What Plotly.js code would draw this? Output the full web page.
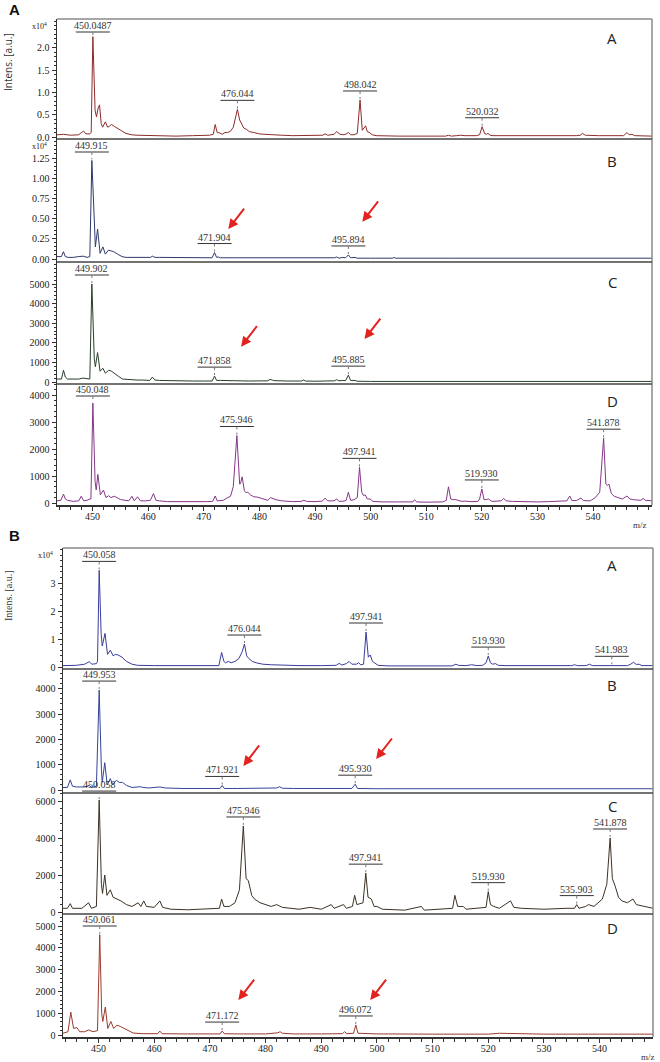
<!DOCTYPE html>
<html><head><meta charset="utf-8">
<script src="https://cdn.plot.ly/plotly-3.0.1.min.js"></script>
<style>body{margin:0;background:#fff}#chart{width:660px;height:1062px}</style>
</head><body><div id="chart"></div>
<script>
// ---------------- DATA ----------------
// Figure A, spectrum A (x10^4)
const mzA1 = [443.6,444.8,446,447.5,448.0,448.4,448.8,449.5,449.75,450.05,450.45,450.7,451.0,451.25,451.55,451.8,452.3,452.7,453.0,453.4,453.9,454.5,455.2,456,457,458,460,462,465,468,470,471.0,471.7,472.05,472.4,472.9,473.3,473.8,474.3,474.8,475.3,475.7,476.05,476.45,476.85,477.2,477.7,478.2,479,480,481,482,484,486,488,490,491.4,491.8,492.3,493.4,493.9,494.5,495.2,495.6,496.0,496.4,497.0,497.6,498.1,498.5,498.8,499.1,499.4,499.8,500.3,501,505,510,513.5,514,514.5,515.5,516.2,517,518,519,519.6,520.05,520.5,520.8,521.1,521.5,522,523,524,530,535,536.5,537,537.7,538.1,538.6,539.5,541,542.5,545.5,546.1,546.5,547,547.5,550.6];
const intA1 = [0.05,0.06,0.04,0.05,0.1,0.13,0.07,0.07,0.1,2.25,0.6,0.45,0.65,0.72,0.3,0.22,0.34,0.22,0.24,0.28,0.24,0.2,0.14,0.08,0.05,0.04,0.03,0.03,0.02,0.03,0.03,0.04,0.06,0.28,0.1,0.09,0.06,0.1,0.1,0.13,0.22,0.4,0.62,0.38,0.28,0.2,0.17,0.12,0.1,0.07,0.06,0.05,0.04,0.03,0.03,0.03,0.04,0.07,0.04,0.06,0.12,0.06,0.05,0.07,0.1,0.05,0.05,0.08,0.83,0.15,0.2,0.25,0.12,0.1,0.05,0.03,0.02,0.02,0.02,0.04,0.02,0.03,0.04,0.03,0.03,0.03,0.05,0.23,0.08,0.06,0.08,0.04,0.03,0.03,0.03,0.02,0.02,0.03,0.03,0.04,0.08,0.04,0.03,0.03,0.03,0.03,0.1,0.05,0.06,0.03,0.02];
// Figure A, spectrum B (x10^4)
const mzA2 = [443.6,444.4,444.75,445.1,445.6,446.5,447.5,448.3,449,449.5,449.87,450.3,450.5,450.9,451.35,451.85,452.3,452.85,453.3,453.8,454.5,455.3,456,458,460.4,460.8,461.2,462,463.5,465,468,471.5,471.93,472.3,472.6,473,476,480,485,490,493.5,493.9,494.3,495.0,495.5,496.0,496.4,497.2,497.6,500,504,504.2,504.5,515,518,518.5,519,519.5,520.2,520.6,535,537.5,538,538.5,540,540.3,540.6,550.6];
const intA2 = [0.03,0.03,0.09,0.03,0.02,0.02,0.03,0.035,0.02,0.03,1.22,0.3,0.15,0.37,0.07,0.15,0.06,0.11,0.1,0.09,0.06,0.03,0.02,0.02,0.02,0.035,0.02,0.02,0.02,0.015,0.015,0.015,0.08,0.02,0.025,0.015,0.015,0.015,0.015,0.015,0.015,0.025,0.01,0.02,0.015,0.05,0.015,0.02,0.01,0.01,0.01,0.02,0.01,0.01,0.01,0.015,0.01,0.01,0.015,0.01,0.01,0.01,0.015,0.01,0.01,0.015,0.01,0.01];
// Figure A, spectrum C
const mzA3 = [443.6,444.4,444.77,445.1,445.5,446.5,447.5,448.3,449,449.5,449.87,450.3,450.5,450.9,451.35,451.85,452.3,452.9,453.4,454,454.6,455.4,456.5,458,459,460.3,460.75,461.2,462,464,466,468,470,471.5,471.93,472.3,473,475,478,481.5,481.9,482.3,482.6,485,487.6,487.9,488.3,490,493.5,493.9,494.3,495.0,495.5,496.0,496.4,497.2,497.6,500,504,504.3,504.6,510,515,518.5,520,525,530,535,538,540,545,550.6];
const intA3 = [150,150,600,250,150,150,150,200,150,150,5000,1200,780,1500,550,700,450,600,550,400,300,150,120,100,100,80,250,100,80,60,60,50,50,50,300,80,80,60,50,60,130,100,70,50,50,100,50,40,60,120,60,80,70,350,80,80,40,30,30,60,30,30,30,50,40,30,30,30,50,40,30,30];
// Figure A, spectrum D
const mzA4 = [443.6,444.3,444.77,445.1,445.5,446.5,447.5,447.95,448.4,449.0,449.5,449.7,450.05,450.45,450.65,450.95,451.4,451.96,452.4,452.9,453.3,453.9,454.4,455,455.8,456.5,457.07,457.5,458.08,458.6,459.5,460.4,460.95,461.4,462,463.5,465,467,469,470.5,471.6,472.05,472.4,473,473.5,474.3,474.8,475.3,475.95,476.45,476.6,476.9,477.3,477.6,477.9,478.4,479,479.6,480.2,480.8,481.5,482.0,482.5,483,484,485,486,487.5,488,488.5,490,491.3,491.8,492.3,493.4,493.9,494.3,495.2,495.6,496.0,496.4,497.0,497.6,498.0,498.4,498.7,499.03,499.4,499.9,500.4,502,505,507.6,507.9,508.3,510,513,513.6,514.0,514.4,514.8,515.2,515.8,516.4,517,518,519.3,519.6,520.0,520.4,520.8,521.2,521.8,522.5,523.5,523.9,524.4,525.5,527,530,532,534,535.3,535.8,536.2,537,537.8,538.3,539,539.5,540.4,541.2,541.9,542.3,542.55,542.85,543.3,543.8,544.5,545.3,546.1,546.6,547.3,548,548.6,549,549.4,550.6];
const intA4 = [80,100,330,150,100,60,80,250,80,100,150,150,3700,800,480,1060,300,480,200,270,200,250,200,130,100,80,250,80,230,80,80,100,350,100,80,50,50,40,50,50,60,260,80,100,100,200,250,600,2500,700,720,970,450,380,400,300,230,220,180,120,100,200,150,120,80,60,50,60,100,60,50,70,180,80,80,150,60,70,100,400,100,120,200,1320,400,280,300,150,150,60,40,40,40,120,40,30,40,100,600,150,120,130,100,60,70,50,60,150,520,120,130,150,60,60,80,170,80,60,50,40,50,60,80,260,90,90,180,90,100,80,200,400,2400,700,650,700,350,250,200,150,260,150,120,100,100,170,100,80];
// Figure B, spectrum A (x10^4)
const mzB1 = [443.6,445,446,447.5,448.3,448.8,449.6,449.8,450.1,450.45,450.65,451.15,451.6,452.1,452.6,453.0,453.5,454.2,455,456,457,460,465,470,471.6,472.1,472.5,472.8,473.3,473.8,474.5,475.2,475.8,476.2,476.6,477.0,477.6,478.3,479.5,481,483,486,490,492.7,493.2,493.7,494.5,495.0,495.5,496.3,496.7,497.1,497.6,498.05,498.45,498.8,499.2,499.6,500.2,502,508,513.5,514.2,514.6,516,517,518,519,519.6,520.0,520.4,520.8,521.3,521.8,523,530,535,535.5,536,537.6,538.2,538.7,540,542.2,543,545,545.6,546.1,546.6,547.1,547.6,549.6];
const intB1 = [0.05,0.06,0.06,0.1,0.19,0.1,0.12,0.2,3.45,1.2,0.75,1.2,0.45,0.6,0.4,0.45,0.43,0.35,0.2,0.1,0.06,0.05,0.04,0.04,0.05,0.52,0.2,0.15,0.2,0.15,0.2,0.3,0.55,0.82,0.4,0.3,0.2,0.15,0.1,0.08,0.06,0.05,0.05,0.06,0.13,0.07,0.12,0.2,0.1,0.1,0.15,0.08,0.1,1.25,0.35,0.43,0.2,0.15,0.06,0.04,0.04,0.04,0.1,0.06,0.05,0.08,0.05,0.06,0.15,0.39,0.15,0.1,0.12,0.06,0.05,0.04,0.05,0.08,0.05,0.05,0.1,0.05,0.05,0.06,0.04,0.05,0.1,0.17,0.09,0.1,0.05,0.05];
// Figure B, spectrum B
const mzB2 = [443.6,444.4,444.9,445.3,446,447.5,448.3,448.8,449.6,450.1,450.5,450.65,451.1,451.55,452.1,452.5,453.2,453.7,454.3,455,456,457.5,458,459,461,462,465,470,471.8,472.2,472.6,475,480,482.0,482.5,483,485,490,494,495.5,496.1,496.5,500,510,520,530,540,549.6];
const intB2 = [100,100,400,150,120,120,180,100,150,3950,800,300,1080,200,450,220,380,300,300,180,100,130,100,80,120,80,60,60,60,180,60,60,60,80,130,70,60,50,60,60,230,60,50,50,50,50,50,50];
// Figure B, spectrum C
const mzB3 = [443.6,444.4,444.9,445.3,447,448.2,448.7,449.6,450.1,450.5,450.7,451.1,451.5,452.1,452.6,453.3,454,455,456,457.1,457.6,458.1,458.6,460,461,461.5,463,466,470,471.7,472.1,472.5,473.5,474.5,475.3,476.0,476.5,476.9,477.5,478,479,480,481,482,483,486,488,490,491.8,492.3,494,494.5,495.6,496.0,496.4,497.5,498.0,498.4,499,499.5,500,501,505,508,508.5,513.6,514.0,514.5,515.5,516,519.6,520.0,520.4,521,522,524,524.6,526,530,534,535.5,535.9,536.3,537.5,538,539,540.5,541.3,541.9,542.3,542.8,543.4,544,545,546,546.6,548,549.6];
const intB3 = [200,200,450,200,200,500,200,300,6050,1500,1000,2000,900,1200,800,700,600,400,300,500,300,600,300,250,600,250,150,120,150,200,700,300,300,500,1200,4650,1800,1700,900,700,500,400,300,400,250,150,250,150,400,200,400,200,300,900,400,500,2100,800,700,300,300,150,100,300,100,200,900,300,300,150,250,1100,400,300,200,600,250,200,150,200,200,400,200,300,400,300,700,1500,4000,1800,1400,800,600,500,700,400,300,200];
// Figure B, spectrum D
const mzB4 = [443.6,444.5,445.0,445.5,446.1,446.6,447.5,448.2,449.0,449.8,450.2,450.55,450.75,451.2,451.65,452.2,452.7,453.3,454,454.6,455.3,456.2,458,460.6,461.0,461.4,465,470,471.8,472.2,472.6,475,480,482.2,482.6,483,485,490,493.8,494.2,494.6,495.8,496.2,496.6,500,510,520,522,530,540,549.6];
const intB4 = [80,150,1050,300,340,150,150,230,150,200,4600,1000,620,1280,300,620,300,450,380,300,180,90,60,60,180,60,50,50,50,180,60,50,50,100,150,80,50,50,60,150,60,80,460,80,50,40,40,80,40,40,40];

// peak labels (text) and the m/z of the peak each one sits over
const labTextA1 = ['450.0487','476.044','498.042','520.032'];
const labPeakA1 = [450.05,476.05,498.1,520.05];
const labTextA2 = ['449.915','471.904','495.894'];
const labPeakA2 = [449.87,471.93,496.0];
const labTextA3 = ['449.902','471.858','495.885'];
const labPeakA3 = [449.87,471.93,496.0];
const labTextA4 = ['450.048','475.946','497.941','519.930','541.878'];
const labPeakA4 = [450.05,475.95,498.0,520.0,541.9];
const labTextB1 = ['450.058','476.044','497.941','519.930','541.983'];
const labPeakB1 = [450.1,476.2,498.05,520.0,542.2];
const labTextB2 = ['449.953','471.921','495.930'];
const labPeakB2 = [450.1,472.2,496.1];
const labTextB3 = ['450.058','475.946','497.941','519.930','535.903','541.878'];
const labPeakB3 = [450.1,476.0,498.0,520.0,535.9,541.9];
const labTextB4 = ['450.061','471.172','496.072'];
const labPeakB4 = [450.2,472.2,496.2];

// red arrows: head position (m/z, intensity) per panel
const arrowMzA2 = [474.4,498.5], arrowIntA2 = [0.37,0.46];
const arrowMzA3 = [476.7,498.9], arrowIntA3 = [1800,2190];
const arrowMzB2 = [476.0,499.85], arrowIntB2 = [950,1225];
const arrowMzB4 = [475.1,498.8], arrowIntB4 = [1600,1600];

const xTicks = [450,460,470,480,490,500,510,520,530,540];
const ticksA1 = [0,0.5,1.0,1.5,2.0];
const ticksA2 = [0,0.25,0.5,0.75,1.0,1.25];
const ticksA3 = [0,1000,2000,3000,4000,5000];
const ticksA4 = [0,1000,2000,3000,4000];
const ticksB1 = [0,1,2,3];
const ticksB2 = [0,1000,2000,3000,4000];
const ticksB3 = [0,2000,4000,6000];
const ticksB4 = [0,1000,2000,3000,4000,5000];
const panelLetters = ['A','B','C','D'];

// ---------------- LAYOUT GEOMETRY ----------------
const W = 660, H = 1062;
const figs = [
  {ax:'x', left:57, right:652, range:[443.6,550.6], top:19, bottom:505, label:'A', labelY:10, titleY:62, titleFont:'Open Sans', mzY:525, mzX:640, bottomAxis:'y4'},
  {ax:'x2', left:63, right:653, range:[443.6,549.6], top:548, bottom:1037, label:'B', labelY:535, titleY:596, titleFont:'Liberation Serif', mzY:1057, mzX:648, bottomAxis:'y8'}
];
const P = [
  {f:0, top:19,  bot:139, zero:137,  ppu:44.6,   ticks:ticksA1, dec:1, exp:true, color:'#8e2c2c', mz:mzA1, it:intA1, lt:labTextA1, lp:labPeakA1, letterOff:19, clamp:13},
  {f:0, top:139, bot:262, zero:259,  ppu:80.8,   ticks:ticksA2, dec:2, exp:true, color:'#2f3a6b', mz:mzA2, it:intA2, lt:labTextA2, lp:labPeakA2, am:arrowMzA2, ai:arrowIntA2, letterOff:22, clamp:13},
  {f:0, top:262, bot:384, zero:382,  ppu:0.0196, ticks:ticksA3, dec:0, color:'#27402a', mz:mzA3, it:intA3, lt:labTextA3, lp:labPeakA3, am:arrowMzA3, ai:arrowIntA3, letterOff:20, clamp:13},
  {f:0, top:384, bot:505, zero:503,  ppu:0.027,  ticks:ticksA4, dec:0, color:'#86378a', mz:mzA4, it:intA4, lt:labTextA4, lp:labPeakA4, letterOff:17, clamp:12},
  {f:1, top:548, bot:669, zero:667,  ppu:28,     ticks:ticksB1, dec:0, exp:true, color:'#3a3c9c', mz:mzB1, it:intB1, lt:labTextB1, lp:labPeakB1, letterOff:17, clamp:12},
  {f:1, top:669, bot:793, zero:790,  ppu:0.0253, ticks:ticksB2, dec:0, color:'#34449a', mz:mzB2, it:intB2, lt:labTextB2, lp:labPeakB2, am:arrowMzB2, ai:arrowIntB2, letterOff:16, clamp:12},
  {f:1, top:793, bot:914, zero:912,  ppu:0.0185, ticks:ticksB3, dec:0, color:'#3c3224', mz:mzB3, it:intB3, lt:labTextB3, lp:labPeakB3, letterOff:13, clamp:-2},
  {f:1, top:914, bot:1037, zero:1035, ppu:0.0218, ticks:ticksB4, dec:0, color:'#9a3a2c', mz:mzB4, it:intB4, lt:labTextB4, lp:labPeakB4, am:arrowMzB4, ai:arrowIntB4, letterOff:14, clamp:12}
];

const serif = 'Liberation Serif';
const traces = [], shapes = [], annotations = [];
const layout = {
  width: W, height: H, margin:{l:0,r:0,t:0,b:0}, paper_bgcolor:'#fff', plot_bgcolor:'#fff',
  showlegend:false, hovermode:false
};

figs.forEach((g, fi) => {
  const key = fi === 0 ? 'xaxis' : 'xaxis2';
  layout[key] = {
    domain:[g.left/W, g.right/W], anchor:g.bottomAxis, range:g.range,
    tickmode:'array', tickvals:xTicks, ticktext:xTicks.map(String),
    ticks:'outside', ticklen:4, tickcolor:'#333', tickwidth:1, ticklabelstandoff:-3,
    minor:{ticks:'outside', ticklen:3, tickmode:'linear', tick0:450, dtick:2, tickcolor:'#333'},
    showline:true, linecolor:'#333', linewidth:1.5, showgrid:false, zeroline:false,
    tickfont:{family:serif, size:10, color:'#222'}, fixedrange:true
  };
  shapes.push({type:'line', xref:'paper', yref:'paper', x0:g.left/W, x1:g.right/W, y0:1-g.top/H, y1:1-g.top/H, line:{color:'#8a8a8a', width:1.5}});
  shapes.push({type:'line', xref:'paper', yref:'paper', x0:g.right/W, x1:g.right/W, y0:1-g.top/H, y1:1-g.bottom/H, line:{color:'#8a8a8a', width:1.5}});
  annotations.push({xref:'paper', yref:'paper', x:14/W, y:1-g.labelY/H, text:'<b>'+g.label+'</b>', showarrow:false, xanchor:'center', yanchor:'middle', font:{family:'Liberation Sans', size:15, color:'#111'}});
  annotations.push({xref:'paper', yref:'paper', x:8/W, y:1-g.titleY/H, text:'Intens. [a.u.]', textangle:-90, showarrow:false, xanchor:'center', yanchor:'middle', font:{family:g.titleFont, size:10, color:'#333'}});
  annotations.push({xref:'paper', yref:'paper', x:g.mzX/W, y:1-g.mzY/H, text:'m/z', showarrow:false, xanchor:'center', yanchor:'middle', font:{family:serif, size:9, color:'#333'}});
});

P.forEach((p, i) => {
  const n = i + 1;
  const g = figs[p.f];
  const yk = n === 1 ? 'yaxis' : 'yaxis' + n;
  const yr = n === 1 ? 'y' : 'y' + n;
  const yRange = [-(p.bot - p.zero)/p.ppu, (p.zero - p.top)/p.ppu];
  const step = p.ticks[1] - p.ticks[0];
  layout[yk] = {
    domain:[1 - p.bot/H, 1 - p.top/H], anchor:g.ax, range:yRange,
    tickmode:'array', tickvals:p.ticks, ticktext:p.ticks.map(v => v.toFixed(p.dec)),
    ticks:'outside', ticklen:4, tickcolor:'#333',
    minor:{ticks:'outside', ticklen:2, tickmode:'linear', tick0:0, dtick:step/5, tickcolor:'#333'},
    showline:true, linecolor:'#333', linewidth:1.5, showgrid:false, zeroline:false,
    tickfont:{family:serif, size:10, color:'#222'}, fixedrange:true
  };
  traces.push({type:'scatter', mode:'lines', x:p.mz, y:p.it, xaxis:g.ax, yaxis:yr,
    line:{color:p.color, width:1}, hoverinfo:'skip', cliponaxis:true});
  if (i % 4 !== 3) {
    shapes.push({type:'line', xref:'paper', yref:'paper', x0:g.left/W, x1:g.right/W, y0:1-p.bot/H, y1:1-p.bot/H, line:{color:'#444', width:1.5}});
  }
  const xppu = (g.right - g.left)/(g.range[1] - g.range[0]);
  // peak labels: horizontal rule + dotted drop line, placed in pixel space above each peak
  p.lt.forEach((txt, k) => {
    let best = -1, bx = p.lp[k], by = 0;
    p.mz.forEach((m, j) => { if (Math.abs(m - p.lp[k]) <= 0.3 && p.it[j] > best) { best = p.it[j]; bx = m; by = p.it[j]; } });
    const peakPx = p.zero - by*p.ppu;
    const linePx = Math.max(peakPx - 9, p.top + p.clamp);
    const lineY = 1 - linePx/H;
    const dx = 17/xppu;
    shapes.push({type:'line', xref:g.ax, yref:'paper', x0:bx-dx, x1:bx+dx, y0:lineY, y1:lineY, line:{color:'#333', width:1}});
    shapes.push({type:'line', xref:g.ax, yref:'paper', x0:bx, x1:bx, y0:lineY, y1:1-(peakPx-1)/H, line:{color:'#777', width:1, dash:'dot'}});
    annotations.push({xref:g.ax, yref:'paper', x:bx, y:lineY, text:txt, showarrow:false, xanchor:'center', yanchor:'bottom', yshift:-1, font:{family:serif, size:10, color:'#333'}});
  });
  if (p.am) p.am.forEach((m, k) => {
    annotations.push({xref:g.ax, yref:yr, x:m, y:p.ai[k], ax:17, ay:-22, text:'', showarrow:true,
      arrowhead:2, arrowsize:1, arrowwidth:2, arrowcolor:'#e3231f', standoff:0});
  });
  annotations.push({xref:'paper', yref:'paper', x:612/W, y:1-(p.top + p.letterOff)/H, text:panelLetters[i % 4], showarrow:false, xanchor:'center', yanchor:'middle', font:{family:'Open Sans', size:15, color:'#222'}});
  if (p.exp) {
    annotations.push({xref:'paper', yref:'paper', x:(g.left - 18)/W, y:1-(p.top + 7)/H, text:'x10<sup>4</sup>', showarrow:false, xanchor:'center', yanchor:'middle', font:{family:serif, size:8, color:'#222'}});
  }
});

layout.shapes = shapes;
layout.annotations = annotations;
Plotly.newPlot('chart', traces, layout, {displayModeBar:false, staticPlot:true});
</script>
</body></html>
